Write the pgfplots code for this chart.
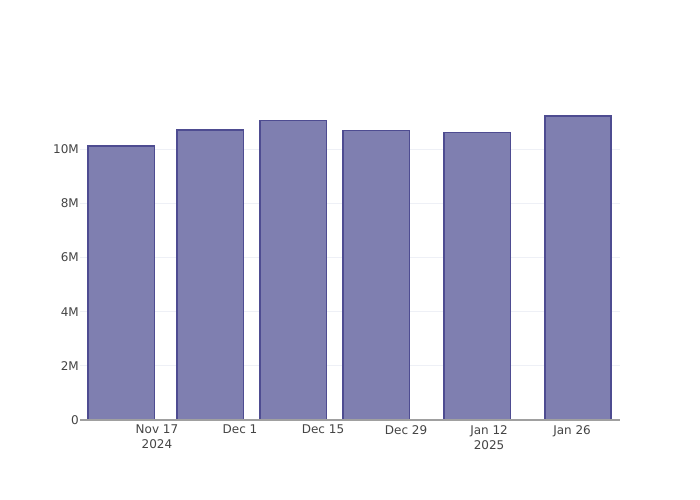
\documentclass[border=0pt]{standalone}
\usepackage{pgfplots}
\pgfplotsset{compat=1.18}
\usepackage{fontspec}
\setmainfont{DejaVu Sans}
\definecolor{barfill}{RGB}{127,127,176}
\definecolor{baredge}{RGB}{78,76,145}
\definecolor{gridc}{RGB}{238,240,246}
\definecolor{txt}{RGB}{68,68,68}
\definecolor{axc}{RGB}{160,160,160}
\begin{document}
\begin{tikzpicture}
\useasboundingbox (0,0) rectangle (700bp,500bp);
\begin{axis}[
  at={(80bp,80bp)}, anchor=south west,
  width=540bp, height=320bp, scale only axis,
  xmin=-12.98, xmax=78.08, ymin=0, ymax=11.82,
  axis line style={draw=none},
  major tick length=0pt,
  ymajorgrids, grid style={gridc, line width=1bp},
  ytick={0,2,4,6,8,10},
  yticklabels={0,2M,4M,6M,8M,10M},
  xtick={0,14,28,42,56,70},
  xticklabels={{Nov 17\\2024},{Dec 1},{Dec 15},{Dec 29},{Jan 12\\2025},{Jan 26}},
  ticklabel style={font=\fontsize{12bp}{15bp}\selectfont, text=txt},
  yticklabel style={anchor=east, inner sep=0pt, xshift=-1bp},
  xticklabel style={anchor=north, inner sep=0pt, yshift=-5bp, align=center},
  /pgf/number format/assume math mode=true,
  clip=false,
]
\addplot[ybar, bar width=11.2, fill=barfill, draw=baredge, line width=1.5bp]
  coordinates {(-6,10.12) (9,10.71) (23,11.07) (37,10.70) (54,10.62) (71,11.23)};
\draw[axc, line width=1.2bp] (axis cs:-12.98,0) -- (axis cs:78.08,0);
\end{axis}
\end{tikzpicture}
\end{document}
